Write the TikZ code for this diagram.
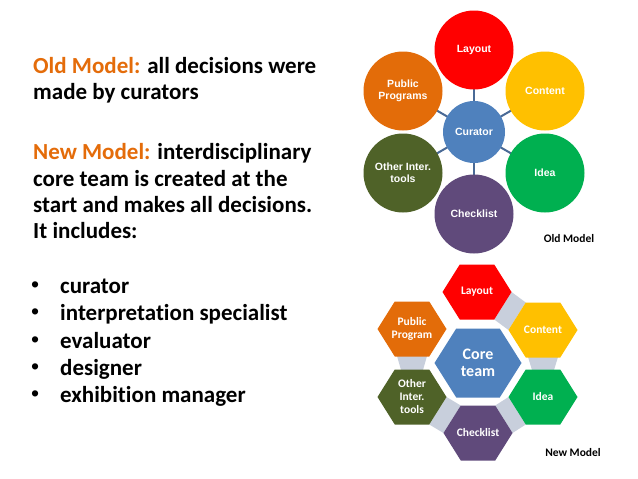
\documentclass[tikz,border=0pt]{standalone}
\usepackage{fontspec}
\setmainfont{Carlito}[RawFeature={-liga}]
\newfontfamily\arialf{Liberation Sans}
\definecolor{cRed}{HTML}{FF0000}
\definecolor{cGold}{HTML}{FFC000}
\definecolor{cGreen}{HTML}{00B050}
\definecolor{cPurple}{HTML}{604A7B}
\definecolor{cOlive}{HTML}{4F6228}
\definecolor{cOrange}{HTML}{E36C09}
\definecolor{cBlue}{HTML}{4F81BD}
\definecolor{cLine}{HTML}{4A6A96}
\definecolor{cConn}{HTML}{C8CFDC}
\definecolor{cTitle}{HTML}{E46C0A}
\newcommand\myhex[6]{%
  \fill[#6] ({#2+#4},#3) -- ({#2+#4/2},{#3+#5}) -- ({#2-#4/2},{#3+#5}) --
    ({#2-#4},#3) -- ({#2-#4/2},{#3-#5}) -- ({#2+#4/2},{#3-#5}) -- cycle;
  \coordinate (#1) at (#2,#3);}
\begin{document}
\begin{tikzpicture}[x=1pt,y=-1pt,
  bodytext/.style={anchor=base west,inner sep=0pt,font=\fontsize{23}{27}\selectfont\bfseries},
  circ/.style={circle,inner sep=0pt,minimum size=79pt},
  clabel/.style={text=white,font=\arialf\fontsize{10.5}{12}\selectfont\bfseries,align=center},
  hlabel/.style={text=white,font=\fontsize{11.5}{13}\selectfont\bfseries,align=center,inner sep=0pt},
  spoke/.style={draw=cLine,line width=2pt},
  caption/.style={font=\fontsize{11.5}{13}\selectfont\bfseries,inner sep=0pt,anchor=base}]
\useasboundingbox[fill=white] (0,0) rectangle (638,479);
% left text
\node[bodytext] (t1) at (33,73) {\textcolor{cTitle}{Old Model:} all decisions were};
\node[bodytext] (t2) at (33,99) {made by curators};
\node[bodytext] (t3) at (33,159) {\textcolor{cTitle}{New Model:} interdisciplinary};
\node[bodytext] (t4) at (33,186) {core team is created at the};
\node[bodytext] (t5) at (33,212) {start and makes all decisions.};
\node[bodytext] (t6) at (33,238) {It includes:};
\foreach \y/\t [count=\i] in {293/curator,320/interpretation specialist,348/evaluator,375/designer,402/exhibition manager}{
  \node[bodytext,font=\arialf\fontsize{23}{26}\selectfont] (b\i) at (31,{\y-1}) {\textbullet};
  \node[bodytext] (l\i) at (60,\y) {\t};
}
% old model
\node[circ] (cur) at (474,132) {};
\node[circ] (lay) at (474,50) {};
\node[circ] (con) at (545,91) {};
\node[circ] (ide) at (545,173) {};
\node[circ] (chk) at (474,214) {};
\node[circ] (oth) at (403,173) {};
\node[circ] (pub) at (403,91) {};
\foreach \n in {lay,con,ide,chk,oth,pub}{\draw[spoke] (cur.center) -- (\n.center);}
\foreach \n/\c in {lay/cRed,con/cGold,ide/cGreen,chk/cPurple,oth/cOlive,pub/cOrange}{\fill[\c] (\n.center) circle (39.5);}
\fill[cBlue] (cur.center) circle (31);
\node[clabel] at (cur) {Curator};
\node[clabel] at (lay) {Layout};
\node[clabel] at (con) {Content};
\node[clabel] at (ide) {Idea};
\node[clabel] at (chk) {Checklist};
\node[clabel] at (oth) {Other Inter.\\tools};
\node[clabel] at (pub) {Public\\Programs};
\node[caption] (om) at (569,242) {Old Model};
% new model connectors
\fill[cConn] (511.5,292) -- (525.75,302.5) -- (508.5,330) -- (494.25,319.5) -- cycle;
\fill[cConn] (528,357) -- (558,357) -- (554,370) -- (532,370) -- cycle;
\fill[cConn] (508.5,397) -- (525.75,424.5) -- (512.5,433) -- (495.25,405.5) -- cycle;
\fill[cConn] (460.75,405.5) -- (443.5,433) -- (429.25,424.5) -- (446.5,397) -- cycle;
\fill[cConn] (397,356) -- (427,356) -- (423,370) -- (401,370) -- cycle;
% hexes
\myhex{hL}{477}{292}{34.5}{27.5}{cRed}
\myhex{hC}{543}{330}{34.5}{27.5}{cGold}
\myhex{hI}{543}{397}{34.5}{27.5}{cGreen}
\myhex{hK}{478}{433}{34.5}{27.5}{cPurple}
\myhex{hO}{412}{397}{34.5}{27.5}{cOlive}
\myhex{hP}{412}{329}{34.5}{27.5}{cOrange}
\myhex{hT}{478}{363}{43.5}{34.5}{cBlue}
\node[hlabel] at (hL) {Layout};
\node[hlabel] at (hC) {Content};
\node[hlabel] at (hI) {Idea};
\node[hlabel] at (hK) {Checklist};
\node[hlabel] at (hO) {Other\\Inter.\\tools};
\node[hlabel] at (hP) {Public\\Program};
\node[hlabel,font=\fontsize{16}{17.5}\selectfont\bfseries] at (hT) {Core\\team};
\node[caption] (nm) at (573,456) {New Model};
\end{tikzpicture}
\end{document}
